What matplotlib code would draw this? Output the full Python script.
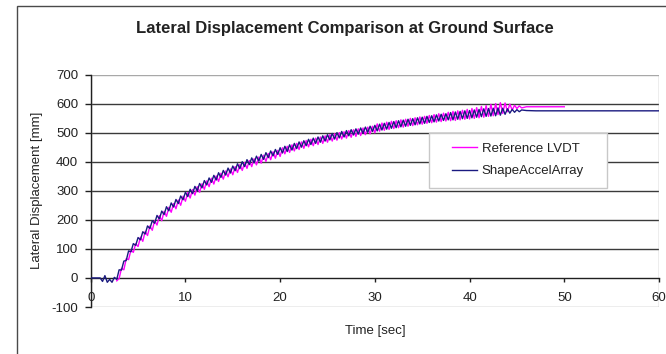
import numpy as np
import matplotlib
matplotlib.use("Agg")
import matplotlib.pyplot as plt
from matplotlib.patches import Rectangle

plt.rcParams['font.family'] = ['Liberation Sans', 'DejaVu Sans']
plt.rcParams['axes.unicode_minus'] = False

title = "Lateral Displacement Comparison at Ground Surface"
xlabel = "Time [sec]"
ylabel = "Lateral Displacement [mm]"
series_names = ["Reference LVDT", "ShapeAccelArray"]
xticks = [0, 10, 20, 30, 40, 50, 60]
yticks = [-100, 0, 100, 200, 300, 400, 500, 600, 700]

# ShapeAccelArray: samples every 0.25 s from t = 0 to 45.5 s, then the flat tail
accel_step = 0.25
accel_vals = [
    0, 0, 0, 0, 0, -12, 8, -15, -5, -15, 2, -5,
    28, 27, 58, 60, 93, 90, 118, 112, 139, 131, 159, 151, 179, 170, 197, 188,
    215, 203, 230, 218, 245, 231, 258, 244, 270, 256, 282, 269, 295,
    280, 305, 290, 315, 300, 325, 310, 335, 320, 344, 329, 353, 337, 362, 346,
    370, 354, 378, 361, 385, 369, 393, 376, 400, 383, 407, 390, 413, 396, 419,
    402, 425, 408, 431, 414, 437, 420, 442, 425, 448,
    430, 453, 435, 458, 440, 463, 445, 468, 450, 472, 455, 477, 459, 481, 463,
    485, 467, 489, 471, 493, 475, 497, 478, 500, 482, 504, 485, 507, 489, 510,
    492, 513, 495, 516, 498, 519, 501, 522, 504, 525,
    506, 529, 509, 532, 512, 535, 515, 538, 517, 541, 520, 543, 522, 546, 525,
    548, 527, 551, 530, 553, 532, 556, 535, 558, 537, 561, 540, 563, 542, 565,
    544, 569, 544, 571, 546, 573, 548, 575, 549, 576, 551, 578, 553, 580, 555,
    582, 556, 583, 557, 584, 558, 585, 560, 584, 563, 582, 567, 580, 570, 579,
    572, 578,
]
accel_tail_t = [46.0, 47.0, 60.0]
accel_tail_v = [576, 575, 575]

# Reference LVDT: samples every 0.25 s from t = 2.75 to 45.5 s, then the flat tail
lvdt_start = 2.75
lvdt_step = 0.25
lvdt_vals = [
    -10, -2, 33, 28, 66, 63, 96, 88, 118, 108, 140, 126, 160, 146, 179, 164,
    197, 182, 214, 197, 229, 212, 243, 226, 256, 238, 268, 250, 281, 264,
    294, 275, 304, 285, 314, 295, 324, 305, 334, 314, 343, 323, 351, 332, 360,
    340, 368, 348, 375, 355, 383, 363, 390, 370, 397, 377, 404, 383, 410, 389,
    416, 395, 422, 401, 428, 407, 434, 412, 439, 418,
    448, 427, 453, 432, 458, 437, 463, 442, 468, 446, 473, 451, 477, 455, 481,
    459, 485, 463, 489, 467, 493, 471, 496, 474, 500, 478, 503, 481, 507, 484,
    510, 487, 513, 490, 516, 493, 519, 496, 522, 499,
    530, 505, 533, 508, 536, 511, 539, 514, 541, 517, 544, 519, 546, 522, 549,
    524, 551, 527, 554, 529, 556, 532, 559, 534, 562, 536, 565, 538, 567, 540,
    570, 541, 573, 542, 575, 544, 577, 546, 580, 547, 583, 549, 586, 551, 590,
    553, 593, 556, 597, 558, 600, 562, 603, 566, 602, 572, 598, 578, 594, 583,
    592, 585,
]
lvdt_tail_t = [46.0, 50.0]
lvdt_tail_v = [589, 589]

accel_t = np.concatenate([np.arange(len(accel_vals)) * accel_step, accel_tail_t])
accel_y = np.concatenate([accel_vals, accel_tail_v])
lvdt_t = np.concatenate([lvdt_start + np.arange(len(lvdt_vals)) * lvdt_step, lvdt_tail_t])
lvdt_y = np.concatenate([lvdt_vals, lvdt_tail_v])

W, H = 666, 354
fig = plt.figure(figsize=(W / 100, H / 100), dpi=100)
fig.patch.set_facecolor('white')

# outer chart-area frame (extends past the right and bottom edges)
fig.patches.append(Rectangle((16.5 / W, -0.1), 1.2, 1 - 6.5 / H + 0.1,
                             transform=fig.transFigure, fill=False,
                             edgecolor='#4a4a4a', linewidth=1.0))

ax = fig.add_axes([90.7 / W, 1 - 307 / H, (659 - 90.7) / W, (307 - 74.5) / H])
ax.set_xlim(0, 60)
ax.set_ylim(-100, 700)

grid_color = '#3a3a3a'
for yv in yticks[2:-1]:
    ax.axhline(yv, color=grid_color, linewidth=1.0, zorder=1)
# plot-area border (gray) at top, right, bottom
ax.add_patch(Rectangle((0, 0), 1, 1, transform=ax.transAxes, fill=False,
                       edgecolor='#a8a8a8', linewidth=1.0, zorder=1))

ax.plot(lvdt_t, lvdt_y, color='#ff00ff', linewidth=1.0, zorder=3, label=series_names[0])
ax.plot(accel_t, accel_y, color='#1a1a80', linewidth=1.0, zorder=4, label=series_names[1])

for s in ['top', 'right']:
    ax.spines[s].set_visible(False)
ax.spines['bottom'].set_position(('data', 0))
ax.spines['bottom'].set_color('#202020')
ax.spines['bottom'].set_linewidth(1.0)
ax.spines['bottom'].set_zorder(2)
ax.spines['left'].set_color('#202020')
ax.spines['left'].set_linewidth(1.0)

ax.set_xticks(xticks)
ax.set_yticks(yticks)
ax.tick_params(axis='x', direction='out', length=3, width=1, color='#202020',
               labelsize=9.5, pad=7, labelcolor='#222222')
ax.tick_params(axis='y', direction='out', length=4, width=1, color='#202020',
               labelsize=9.5, pad=5, labelcolor='#222222')

fig.text(345 / W, 1 - 29 / H, title, ha='center', va='center',
         fontsize=12, fontweight='bold', color='#222222')
fig.text(375 / W, 1 - 331 / H, xlabel, ha='center', va='center',
         fontsize=9.5, color='#222222')
fig.text(37 / W, 1 - 190.5 / H, ylabel, ha='center', va='center',
         rotation=90, fontsize=9.5, color='#222222')

# legend frame (drawn inside the axes, positioned in figure pixels)
ax.add_patch(Rectangle((429 / W, 1 - 188 / H), (607 - 429) / W, (188 - 133) / H,
                       transform=fig.transFigure, facecolor='white',
                       edgecolor='#c8c8c8', linewidth=1.0, zorder=5, clip_on=False))
leg = ax.legend(loc='center left', bbox_to_anchor=(452 / W, 1 - 160 / H),
                bbox_transform=fig.transFigure, frameon=False, fontsize=9.5,
                handlelength=1.9, handletextpad=0.35, labelspacing=0.75,
                borderaxespad=0, borderpad=0)
leg.set_zorder(6)
for txt in leg.get_texts():
    txt.set_color('#222222')

fig.savefig('out.png', dpi=100, facecolor='white')
